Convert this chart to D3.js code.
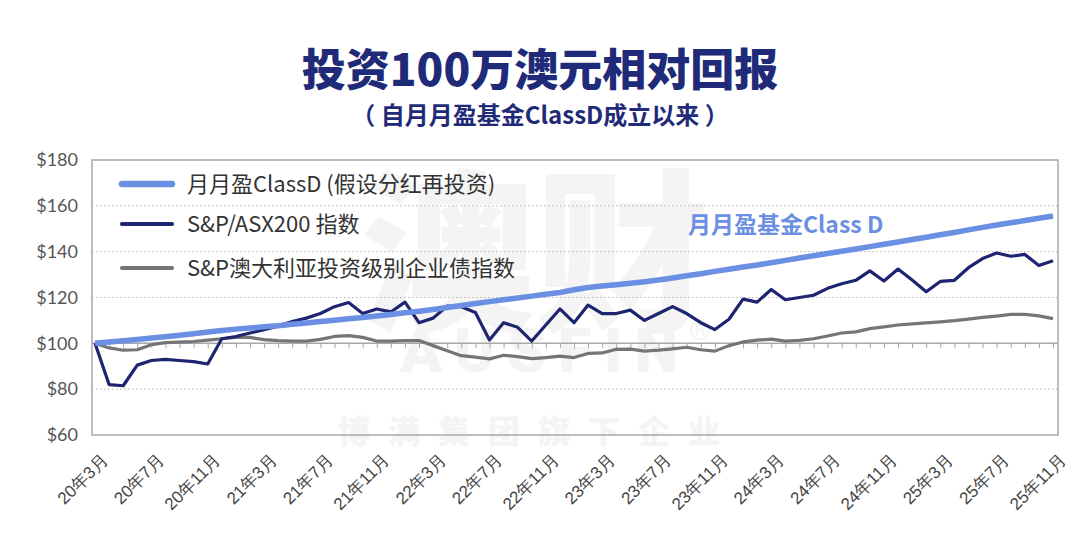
<!DOCTYPE html>
<html>
<head>
<meta charset="utf-8">
<script src="https://cdn.jsdelivr.net/npm/d3@7"></script>
<style>
  body { margin: 0; background: #fff; }
  svg { display: block; font-family: "Noto Sans CJK SC", "Noto Sans", sans-serif; }
</style>
</head>
<body>
<svg width="1080" height="548"></svg>
<script>
// monthly, 2020-03 .. 2025-11 (69 months)
var tickLabels = ["20年3月","20年7月","20年11月","21年3月","21年7月","21年11月","22年3月","22年7月","22年11月",
  "23年3月","23年7月","23年11月","24年3月","24年7月","24年11月","25年3月","25年7月","25年11月"];

var classD = [100,100.6,101.1,101.7,102.3,102.9,103.5,104.2,104.9,105.6,
  106.2,106.7,107.2,107.7,108.3,108.9,109.5,110.1,110.7,111.3,
  111.9,112.6,113.3,114,114.8,115.6,116.5,117.4,118.2,119,
  119.8,120.6,121.4,122.2,123.4,124.4,125,125.6,126.2,126.9,
  127.6,128.5,129.5,130.4,131.4,132.3,133.3,134.2,135.2,136.2,
  137.2,138.2,139.2,140.2,141.2,142.2,143.2,144.2,145.3,146.3,
  147.4,148.4,149.5,150.6,151.6,152.6,153.6,154.6,155.6];

var asx200 = [100,82,81.5,90.5,92.5,93,92.5,92,91,102,
  103,104.5,106,107.5,109.5,111,113,116,117.8,113,
  115,113.7,118,109,111,116.3,116,113.5,101.5,109,
  107,101,108,115,109,116.7,113,113,114.5,110,
  113,116,113,109,106,110.5,119.3,118,123.5,119,
  120,121,124,126,127.5,131.6,127.2,132.4,127.6,122.5,
  127,127.5,133,137,139.4,138,138.8,134,136];

var bond = [100,98,97,97.2,99.4,100.3,100.5,100.8,101.4,102,
  102.6,102.6,101.6,101.2,101,101,101.7,103,103.4,102.6,
  101,101,101.2,101.2,99,96.8,94.6,94,93.2,94.8,
  94.2,93.3,93.8,94.4,93.8,95.6,95.8,97.4,97.5,96.6,
  97,97.6,98.3,97.2,96.6,99,100.6,101.4,101.8,101,
  101.3,102,103.2,104.5,105,106.4,107.2,108,108.5,108.9,
  109.4,109.9,110.6,111.3,111.9,112.6,112.6,112,110.8];

var yTicks = [60, 80, 100, 120, 140, 160, 180];

var seriesNames = ["月月盈ClassD (假设分红再投资)", "S&P/ASX200 指数", "S&P澳大利亚投资级别企业债指数"];
var seriesColors = ["#6b8fe3", "#1d2470", "#757575"];
var seriesWidths = [5.5, 3.2, 3.2];

var svg = d3.select("svg");
var navy = "#1f2b78";

var plotLeft = 92, plotRight = 1058, plotTop = 160, plotBottom = 435;

var x = d3.scaleLinear().domain([0, classD.length - 1]).range([95, 1053]);
var y = d3.scaleLinear().domain([60, 180]).range([plotBottom, plotTop]);

// watermark
var wm = svg.append("g").attr("fill", "#f4f4f4").attr("text-anchor", "middle").style("font-weight", 900);
wm.append("text").attr("x", 535).attr("y", 318).style("font-size", "175px").text("澳财");
wm.append("text").attr("x", 545).attr("y", 372).style("font-size", "62px").style("font-family", "Roboto, sans-serif")
  .attr("letter-spacing", 12).text("AUSFIN");
wm.append("text").attr("x", 700).attr("y", 340).style("font-size", "28px").style("font-family", "Roboto, sans-serif").text("®");
wm.append("text").attr("x", 538).attr("y", 443).style("font-size", "32px").attr("letter-spacing", 18).text("博满集团旗下企业");

// title
svg.append("text")
  .attr("x", 540).attr("y", 86)
  .attr("text-anchor", "middle")
  .attr("fill", navy)
  .style("font-size", "44px").style("font-weight", 900)
  .text("投资100万澳元相对回报");

svg.append("text")
  .attr("x", 540).attr("y", 124)
  .attr("text-anchor", "middle")
  .attr("fill", navy)
  .style("font-size", "24px").style("font-weight", 700)
  .text("（ 自月月盈基金ClassD成立以来 ）");

// grid
svg.append("g")
  .selectAll("line")
  .data(yTicks.filter(function(d) { return d != 60 && d != 100 && d != 180; }))
  .enter().append("line")
  .attr("x1", plotLeft).attr("x2", plotRight)
  .attr("y1", function(d) { return y(d); })
  .attr("y2", function(d) { return y(d); })
  .attr("stroke", "#b5b5b5")
  .attr("stroke-dasharray", "1.5,2.5");

// y axis labels
var yAxis = svg.append("g")
  .attr("transform", "translate(" + plotLeft + ",0)")
  .call(d3.axisLeft(y).tickValues(yTicks).tickSize(0).tickPadding(14).tickFormat(function(d) { return "$" + d; }));
yAxis.select(".domain").remove();
yAxis.selectAll("text")
  .attr("fill", "#555")
  .style("font-size", "18px")
  .style("font-family", "Lato, 'Noto Sans', sans-serif");

// frame
svg.append("rect")
  .attr("x", plotLeft).attr("y", plotTop)
  .attr("width", plotRight - plotLeft).attr("height", plotBottom - plotTop)
  .attr("fill", "none")
  .attr("stroke", "#a8a8a8")
  .attr("stroke-width", 1.5);

// axis on the $100 line with monthly ticks
var axis100 = svg.append("g")
  .attr("transform", "translate(0," + y(100) + ")")
  .call(d3.axisBottom(x).tickValues(d3.range(classD.length)).tickSize(5).tickFormat(""));
axis100.select(".domain").attr("d", "M" + plotLeft + ",0H" + plotRight).attr("stroke", "#a8a8a8").attr("stroke-width", 1.5);
axis100.selectAll(".tick line").attr("stroke", "#a8a8a8");

// x labels
var xAxis = svg.append("g")
  .attr("transform", "translate(0," + plotBottom + ")")
  .call(d3.axisBottom(x)
    .tickValues(d3.range(0, classD.length, 4))
    .tickSize(0)
    .tickFormat(function(d, i) { return tickLabels[i]; }));
xAxis.select(".domain").remove();
xAxis.selectAll("text")
  .attr("text-anchor", "end")
  .attr("fill", "#444")
  .style("font-size", "17px")
  .attr("y", 0)
  .attr("dy", "0.35em")
  .attr("transform", "translate(9,22) rotate(-45)");

// lines
var line = d3.line()
  .x(function(d, i) { return x(i); })
  .y(function(d) { return y(d); });

var allSeries = [bond, asx200, classD];
var order = [2, 1, 0];
svg.append("g")
  .selectAll("path")
  .data(allSeries)
  .enter().append("path")
  .attr("fill", "none")
  .attr("stroke", function(d, i) { return seriesColors[order[i]]; })
  .attr("stroke-width", function(d, i) { return seriesWidths[order[i]]; })
  .attr("stroke-linejoin", "round")
  .attr("d", line);

// legend
var legend = svg.append("g")
  .selectAll("g")
  .data(seriesNames)
  .enter().append("g")
  .attr("transform", function(d, i) { return "translate(122," + [184, 224, 268][i] + ")"; });

legend.append("line")
  .attr("x1", 0).attr("x2", 50)
  .attr("stroke", function(d, i) { return seriesColors[i]; })
  .attr("stroke-width", function(d, i) { return seriesWidths[i] + 1; })
  .attr("stroke-linecap", "round");

legend.append("text")
  .attr("x", 65)
  .attr("dy", "0.35em")
  .attr("fill", "#333")
  .style("font-size", "22px")
  .text(function(d) { return d; });

// annotation
svg.append("text")
  .attr("x", 688).attr("y", 233)
  .attr("fill", "#6b8fe3")
  .style("font-size", "23px").style("font-weight", 700)
  .text("月月盈基金Class D");
</script>
</body>
</html>
